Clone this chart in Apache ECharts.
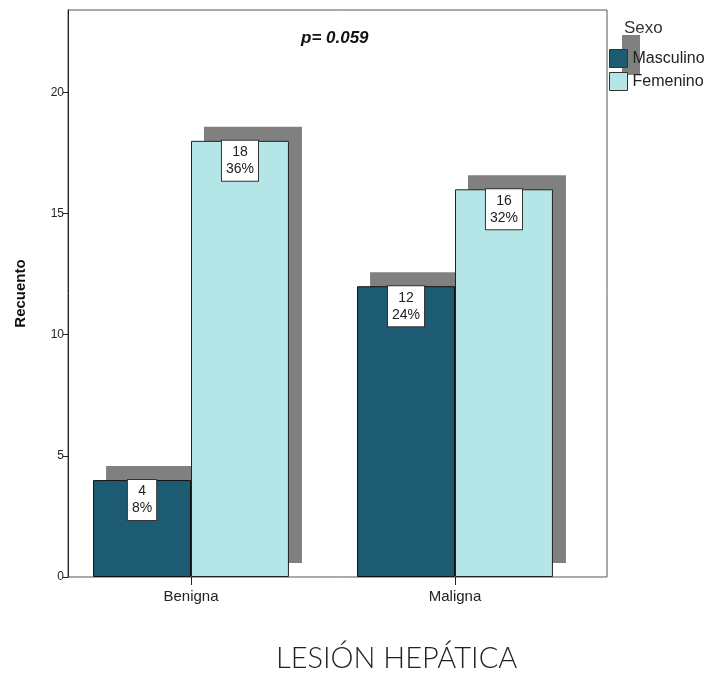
<!DOCTYPE html>
<html><head><meta charset="utf-8">
<script src="https://cdn.jsdelivr.net/npm/echarts@6/dist/echarts.min.js"></script>
<style>html,body{margin:0;padding:0;background:#fff}#c{width:717px;height:674px}</style>
</head><body><div id="c"></div>
<script>
const categories = ['Benigna', 'Maligna'];
const masculino = [4, 12];
const femenino = [18, 16];
const masculinoPct = [8, 24];
const femeninoPct = [36, 32];
const yTicks = [0, 5, 10, 15, 20];
const seriesNames = ['Masculino', 'Femenino'];

const FONT = '"Liberation Sans", Arial, sans-serif';
const YMAX = 23.4;
const SHADOW = '#808080';
const PLOT_H = 567, SH_DX = 13, SH_DY = 14;
const YMAX_SH = YMAX * (PLOT_H - SH_DY) / PLOT_H;
const chart = echarts.init(document.getElementById('c'));

function lbl(pcts) {
  return {
    show: true, position: 'insideTop', distance: 0,
    formatter: p => p.value + '\n' + pcts[p.dataIndex] + '%',
    backgroundColor: '#fff', borderColor: '#333', borderWidth: 1,
    padding: [3, 4, 3, 4], fontFamily: FONT, fontSize: 14, lineHeight: 17, color: '#222',
    align: 'center'
  };
}

const barCommon = { type: 'bar', barGap: '0%', barCategoryGap: '25.8%' };

chart.setOption({
  animation: false,
  backgroundColor: '#fff',
  title: {
    text: 'p= 0.059', left: 296, top: 25,
    textStyle: { fontFamily: FONT, fontSize: 17, fontWeight: 'bold', fontStyle: 'italic', color: '#111' }
  },
  graphic: [
    { type: 'rect', z: -1, shape: { x: 622, y: 35, width: 18, height: 40 }, style: { fill: SHADOW } },
    { type: 'text', left: 624, top: 20, style: { text: 'Sexo', font: '17px "Liberation Sans", Arial', fill: '#333' } },
    { type: 'text', left: 276, top: 644, style: { text: 'LESIÓN HEPÁTICA', font: '300 29px Lato, "Open Sans", sans-serif', fill: '#222' } }
  ],
  legend: {
    orient: 'vertical', left: 609, top: 49, itemWidth: 18, itemHeight: 18, itemGap: 4, itemTextGap: 3, padding: 0,
    data: seriesNames.map(n => ({ name: n, icon: 'rect' })),
    itemStyle: { borderColor: '#333', borderWidth: 1 },
    textStyle: { fontFamily: FONT, fontSize: 16, color: '#222' }
  },
  grid: [
    { left: 68, right: 110, top: 10, bottom: 97, show: true, borderColor: '#555', borderWidth: 1 },
    { left: 59, right: 130, top: 10, bottom: 97 },
    { left: 59 + SH_DX, right: 130 - SH_DX, top: 10, bottom: 97 + SH_DY }
  ],
  xAxis: [
    { gridIndex: 0, type: 'value', show: false, min: 0, max: 1 },
    {
      gridIndex: 1, type: 'category', data: categories,
      axisLine: { show: false },
      axisTick: { show: true, alignWithLabel: true, length: 8, lineStyle: { color: '#222' } },
      axisLabel: { fontFamily: FONT, fontSize: 15, color: '#222', margin: 12 }
    },
    { gridIndex: 2, type: 'category', data: categories, show: false }
  ],
  yAxis: [
    {
      gridIndex: 0, type: 'value', min: 0, max: YMAX, interval: 5,
      name: 'Recuento', nameLocation: 'middle', nameGap: 40, nameRotate: 90,
      nameTextStyle: { fontFamily: FONT, fontSize: 15, fontWeight: 'bold', color: '#111' },
      axisLine: { show: true, lineStyle: { color: '#222' } },
      axisTick: { show: true, length: 5, lineStyle: { color: '#222' } },
      axisLabel: { fontFamily: FONT, fontSize: 12, color: '#222', margin: 4, showMaxLabel: false,
        formatter: v => yTicks.includes(v) ? String(v) : '' },
      splitLine: { show: false }
    },
    { gridIndex: 1, type: 'value', min: 0, max: YMAX, show: false, splitLine: { show: false } },
    { gridIndex: 2, type: 'value', min: 0, max: YMAX_SH, show: false, splitLine: { show: false } }
  ],
  series: [
    Object.assign({}, barCommon, { name: 'sh-m', xAxisIndex: 2, yAxisIndex: 2, data: masculino, z: 1,
      itemStyle: { color: SHADOW }, silent: true }),
    Object.assign({}, barCommon, { name: 'sh-f', xAxisIndex: 2, yAxisIndex: 2, data: femenino, z: 1,
      itemStyle: { color: SHADOW }, silent: true }),
    Object.assign({}, barCommon, {
      name: seriesNames[0], xAxisIndex: 1, yAxisIndex: 1, data: masculino, z: 3,
      itemStyle: { color: '#1d5b72', borderColor: '#111', borderWidth: 1 },
      label: lbl(masculinoPct)
    }),
    Object.assign({}, barCommon, {
      name: seriesNames[1], xAxisIndex: 1, yAxisIndex: 1, data: femenino, z: 3,
      itemStyle: { color: '#b4e5e7', borderColor: '#222', borderWidth: 1 },
      label: lbl(femeninoPct)
    })
  ]
});
</script></body></html>
